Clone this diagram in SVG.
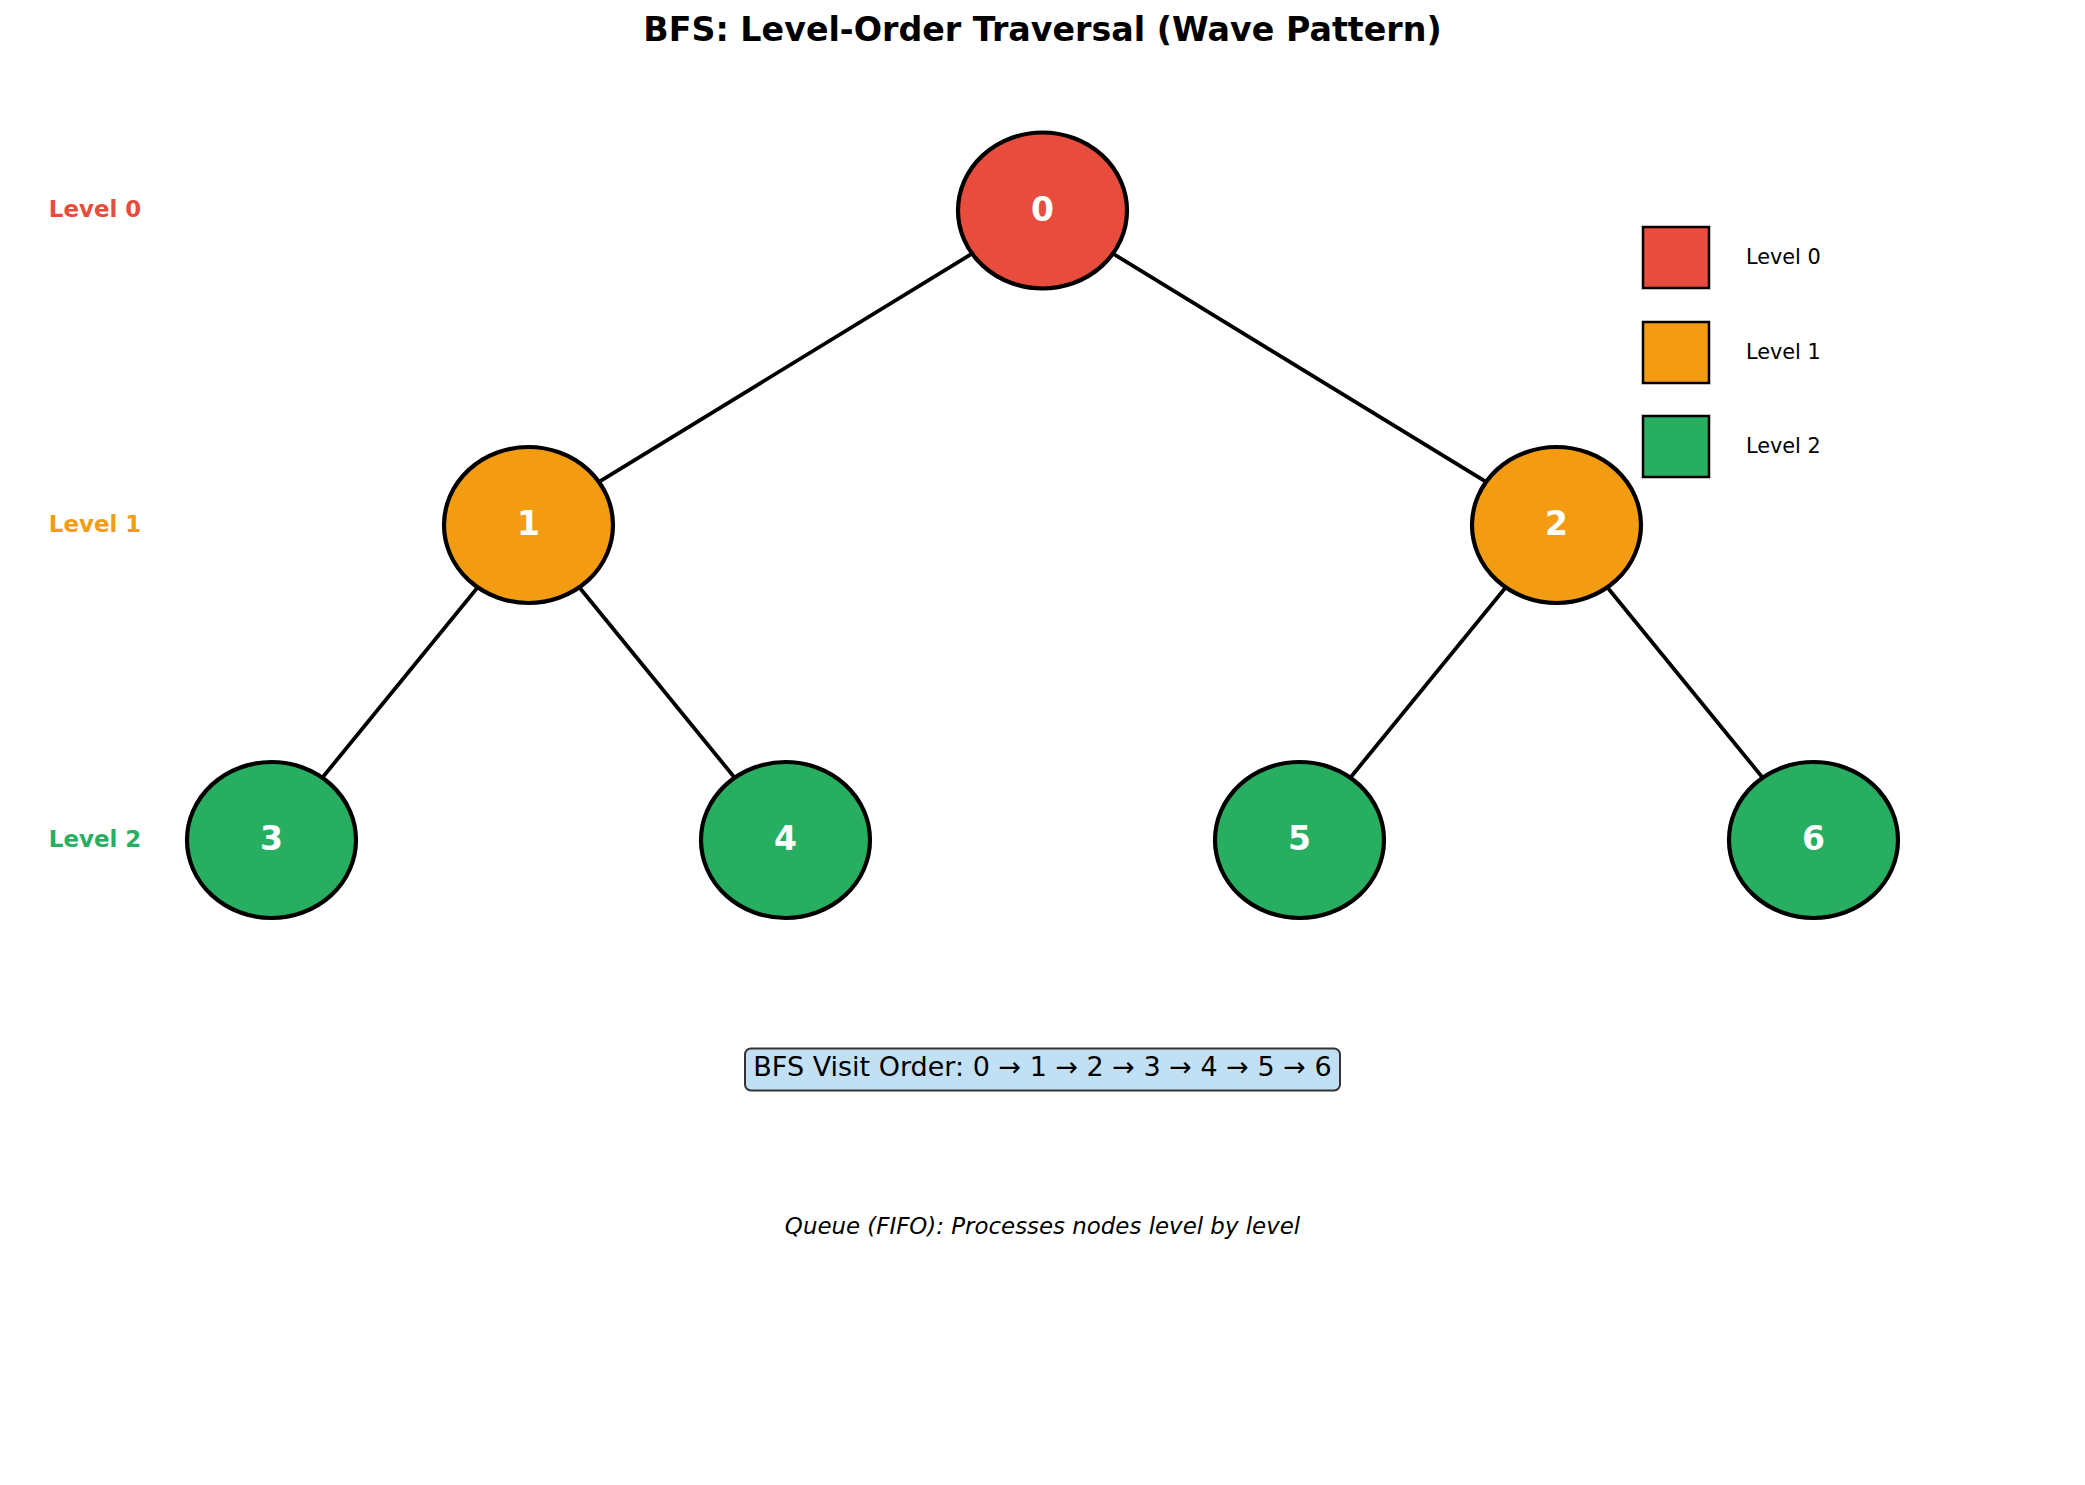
<svg xmlns="http://www.w3.org/2000/svg" width="2085" height="1485" viewBox="0 0 2085 1485">
<style>
.edge{stroke:#000;stroke-width:3.8;fill:none}
.node{stroke:#000;stroke-width:4.2}
.l0{fill:#e74c3c}
.l1{fill:#f39c12}
.l2{fill:#27ae60}
.num{font-family:"DejaVu Sans",sans-serif;font-weight:bold;font-size:33px;fill:#fff;text-anchor:middle}
.lvl{font-family:"DejaVu Sans",sans-serif;font-weight:bold;font-size:22.9px;text-anchor:middle}
.leg{font-family:"DejaVu Sans",sans-serif;font-size:20.8px;fill:#000}
.legbox{stroke:#000;stroke-width:2.5}
</style>
<rect width="2085" height="1485" fill="#fff"/>
<text x="1042.5" y="40.5" font-family="DejaVu Sans, sans-serif" font-weight="bold" font-size="33.3px" text-anchor="middle" fill="#000">BFS: Level-Order Traversal (Wave Pattern)</text>
<g id="connectors">
<line class="edge" x1="1042.5" y1="210.5" x2="528.5" y2="525"/>
<line class="edge" x1="1042.5" y1="210.5" x2="1556.5" y2="525"/>
<line class="edge" x1="528.5" y1="525" x2="271.5" y2="840"/>
<line class="edge" x1="528.5" y1="525" x2="785.5" y2="840"/>
<line class="edge" x1="1556.5" y1="525" x2="1299.5" y2="840"/>
<line class="edge" x1="1556.5" y1="525" x2="1813.5" y2="840"/>
</g>
<g id="node0"><ellipse class="node l0" cx="1042.5" cy="210.5" rx="84.5" ry="78"/><text class="num" x="1042.5" y="220.5">0</text></g>
<g id="node1"><ellipse class="node l1" cx="528.5" cy="525" rx="84.5" ry="78"/><text class="num" x="528.5" y="535">1</text></g>
<g id="node2"><ellipse class="node l1" cx="1556.5" cy="525" rx="84.5" ry="78"/><text class="num" x="1556.5" y="535">2</text></g>
<g id="node3"><ellipse class="node l2" cx="271.5" cy="840" rx="84.5" ry="78"/><text class="num" x="271.5" y="850">3</text></g>
<g id="node4"><ellipse class="node l2" cx="785.5" cy="840" rx="84.5" ry="78"/><text class="num" x="785.5" y="850">4</text></g>
<g id="node5"><ellipse class="node l2" cx="1299.5" cy="840" rx="84.5" ry="78"/><text class="num" x="1299.5" y="850">5</text></g>
<g id="node6"><ellipse class="node l2" cx="1813.5" cy="840" rx="84.5" ry="78"/><text class="num" x="1813.5" y="850">6</text></g>
<g id="level-labels">
<text class="lvl" x="95" y="216.7" fill="#e74c3c">Level 0</text>
<text class="lvl" x="95" y="531.5" fill="#f39c12">Level 1</text>
<text class="lvl" x="95" y="846.5" fill="#27ae60">Level 2</text>
</g>
<g id="legend">
<rect class="legbox l0" x="1643" y="227" width="66" height="61"/>
<text class="leg" x="1746" y="264">Level 0</text>
<rect class="legbox l1" x="1643" y="322" width="66" height="61"/>
<text class="leg" x="1746" y="358.5">Level 1</text>
<rect class="legbox l2" x="1643" y="416" width="66" height="61"/>
<text class="leg" x="1746" y="453">Level 2</text>
</g>
<g id="visit-order">
<rect x="745" y="1048.5" width="595" height="42" rx="6" fill="#c2e0f4" stroke="#333" stroke-width="2"/>
<text x="1042.5" y="1076" font-family="DejaVu Sans, sans-serif" font-size="27px" text-anchor="middle" fill="#000">BFS Visit Order: 0 → 1 → 2 → 3 → 4 → 5 → 6</text>
</g>
<text x="1042.5" y="1233.5" font-family="DejaVu Sans, sans-serif" font-style="italic" font-size="22.9px" text-anchor="middle" fill="#000">Queue (FIFO): Processes nodes level by level</text>
</svg>
